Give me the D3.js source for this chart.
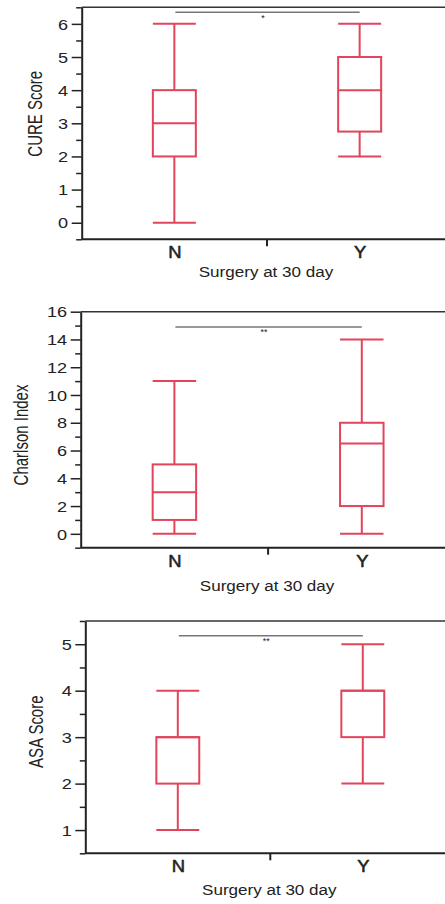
<!DOCTYPE html>
<html><head><meta charset="utf-8">
<script src="https://cdn.jsdelivr.net/npm/d3@7"></script>
<style>
body{margin:0;background:#fff}
svg{display:block}
text{font-family:"Liberation Sans",Arial,Helvetica,sans-serif;fill:#222}
</style>
</head><body>
<svg id="c" width="445" height="904"></svg>
<script>
// ---------- data ----------
const categories = ["N", "Y"];
const xTitle = "Surgery at 30 day";
const yTitles = ["CURE Score", "Charlson Index", "ASA Score"];

const cureMin = [0, 2], cureQ1 = [2, 2.75], cureMed = [3, 4], cureQ3 = [4, 5], cureMax = [6, 6];
const charlsonMin = [0, 0], charlsonQ1 = [1, 2], charlsonMed = [3, 6.5], charlsonQ3 = [5, 8], charlsonMax = [11, 14];
const asaMin = [1, 2], asaQ1 = [2, 3], asaMed = [3, 4], asaQ3 = [3, 4], asaMax = [4, 5];

const cureTicks = [0, 1, 2, 3, 4, 5, 6];
const charlsonTicks = [0, 2, 4, 6, 8, 10, 12, 14, 16];
const asaTicks = [1, 2, 3, 4, 5];

const cureDomain = [-0.5, 6.5], charlsonDomain = [-1, 16], asaDomain = [0.5, 5.5];
const minorSteps = [0.5, 1, 0.5];

const sigLabels = ["*", "**", "**"];
const sigLevels = [6.35, 14.9, 5.18];

// ---------- layout ----------
const layout = [
  {left: 81.7, top: 7.3, bottom: 239.3, right: 452.3, ytx: 35, yty: 113.8, catDy: 19, titleDy: 37.5},
  {left: 80.7, top: 311.7, bottom: 547.7, right: 455.5, ytx: 20.7, yty: 435, catDy: 19, titleDy: 43},
  {left: 85.3, top: 621, bottom: 853.3, right: 455.3, ytx: 36, yty: 731.7, catDy: 18.5, titleDy: 41.7}
];

const panels = [
  {min: cureMin, q1: cureQ1, med: cureMed, q3: cureQ3, max: cureMax, ticks: cureTicks, domain: cureDomain},
  {min: charlsonMin, q1: charlsonQ1, med: charlsonMed, q3: charlsonQ3, max: charlsonMax, ticks: charlsonTicks, domain: charlsonDomain},
  {min: asaMin, q1: asaQ1, med: asaMed, q3: asaQ3, max: asaMax, ticks: asaTicks, domain: asaDomain}
];

const RED = "#e2445c";
const svg = d3.select("#c");
const SX = 1.25; // horizontal stretch of the source picture

panels.forEach((p, i) => {
  const L = layout[i];
  const g = svg.append("g");
  const y = d3.scaleLinear().domain(p.domain).range([L.bottom, L.top]);
  const x = d3.scalePoint().domain(categories).range([L.left, L.right]).padding(0.5);
  const boxW = x.step() * 0.232;

  // frame top line
  g.append("line").attr("x1", L.left).attr("x2", 460).attr("y1", L.top).attr("y2", L.top)
    .attr("stroke", "#333").attr("stroke-width", 1.6);

  // minor ticks
  const minor = d3.range(p.domain[0], p.domain[1] + 1e-6, minorSteps[i])
    .filter(v => !p.ticks.some(t => Math.abs(t - v) < 1e-6));
  const minorAxis = g.append("g").attr("transform", `translate(${L.left},0)`)
    .call(d3.axisLeft(y).tickValues(minor).tickSize(5.5).tickSizeOuter(0).tickFormat(""));
  minorAxis.select(".domain").remove();
  minorAxis.selectAll("line").attr("stroke", "#222").attr("stroke-width", 1.5);

  // major axis
  const ax = g.append("g").attr("transform", `translate(${L.left},0)`)
    .call(d3.axisLeft(y).tickValues(p.ticks).tickSize(10).tickSizeOuter(0).tickFormat(d3.format("d")));
  ax.select(".domain").attr("stroke", "#222").attr("stroke-width", 2);
  ax.selectAll(".tick line").attr("stroke", "#222").attr("stroke-width", 1.5);
  ax.selectAll(".tick text")
    .attr("x", 0).attr("dy", "0.36em")
    .attr("transform", `translate(-13.5,0) scale(${SX},1)`)
    .style("font-size", "14.5px").attr("fill", "#222");

  // bottom axis
  const bx = g.append("g").attr("transform", `translate(0,${L.bottom})`)
    .call(d3.axisBottom(x).tickSize(0).tickSizeOuter(0).tickPadding(0));
  bx.select(".domain").attr("d", `M${L.left},0H460`).attr("stroke", "#222").attr("stroke-width", 2);
  bx.selectAll(".tick text")
    .attr("y", 0).attr("dy", 0)
    .attr("transform", `translate(0,${L.catDy}) scale(1.15,1)`)
    .style("font-size", "16px").attr("fill", "#222")
    .attr("stroke", "#222").attr("stroke-width", 0.5);
  const mid = (x(categories[0]) + x(categories[1])) / 2;
  g.append("line").attr("x1", mid).attr("x2", mid).attr("y1", L.bottom).attr("y2", L.bottom + 7)
    .attr("stroke", "#222").attr("stroke-width", 2);

  // x title
  g.append("text").attr("text-anchor", "middle")
    .attr("transform", `translate(${mid - 1},${L.bottom + L.titleDy}) scale(1.1,1)`)
    .style("font-size", "15.5px").text(xTitle);

  // y title
  g.append("text").attr("text-anchor", "middle").attr("dy", "0.36em")
    .attr("transform", `translate(${L.ytx},${L.yty}) scale(1.3,1) rotate(-90)`)
    .style("font-size", "15px").text(yTitles[i]);

  // boxes
  categories.forEach((c, k) => {
    const cx = x(c);
    const bg = g.append("g").attr("stroke", RED).attr("stroke-width", 2).attr("fill", "none");
    bg.append("line").attr("x1", cx).attr("x2", cx).attr("y1", y(p.q3[k])).attr("y2", y(p.max[k]));
    bg.append("line").attr("x1", cx).attr("x2", cx).attr("y1", y(p.q1[k])).attr("y2", y(p.min[k]));
    bg.append("line").attr("x1", cx - boxW / 2).attr("x2", cx + boxW / 2).attr("y1", y(p.max[k])).attr("y2", y(p.max[k]));
    bg.append("line").attr("x1", cx - boxW / 2).attr("x2", cx + boxW / 2).attr("y1", y(p.min[k])).attr("y2", y(p.min[k]));
    bg.append("rect").attr("x", cx - boxW / 2).attr("width", boxW)
      .attr("y", y(p.q3[k])).attr("height", y(p.q1[k]) - y(p.q3[k])).attr("fill", "#fff");
    bg.append("line").attr("x1", cx - boxW / 2).attr("x2", cx + boxW / 2).attr("y1", y(p.med[k])).attr("y2", y(p.med[k]));
  });

  // significance bar
  const sy = y(sigLevels[i]);
  g.append("line").attr("x1", x(categories[0]) + 1).attr("x2", x(categories[1]))
    .attr("y1", sy).attr("y2", sy).attr("stroke", "#777").attr("stroke-width", 1.5);
  g.append("text").attr("text-anchor", "middle").attr("x", mid - 4).attr("y", sy + 8.5)
    .style("font-size", "9px").attr("fill", "#444").text(sigLabels[i]);
});
</script>
</body></html>
